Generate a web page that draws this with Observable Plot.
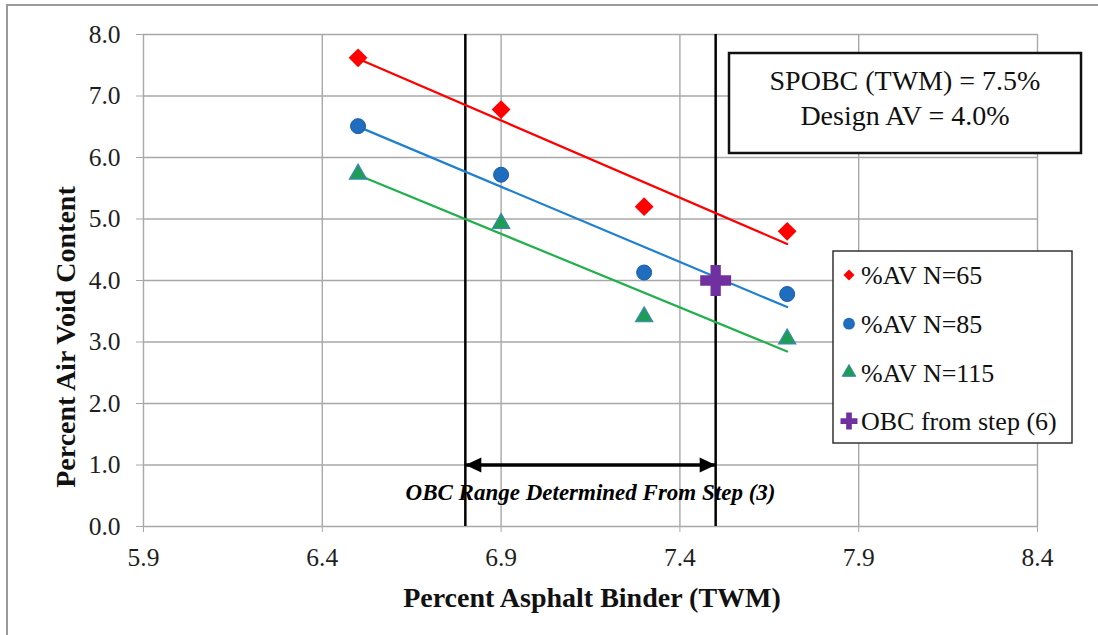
<!DOCTYPE html>
<html><head><meta charset="utf-8">
<script src="https://cdn.jsdelivr.net/npm/d3@7"></script>
<script src="https://cdn.jsdelivr.net/npm/@observablehq/plot@0.6"></script>
<style>html,body{margin:0;padding:0;background:#fff;} #chart{width:1098px;height:635px;overflow:hidden;}</style>
</head><body><div id="chart"></div>
<script>
// ---- data ----
const xTicks = [5.9, 6.4, 6.9, 7.4, 7.9, 8.4];
const yTicks = [0, 1, 2, 3, 4, 5, 6, 7, 8];
const binder = [6.5, 6.9, 7.3, 7.7];
const av65 = [7.62, 6.78, 5.20, 4.80];
const av85 = [6.51, 5.72, 4.13, 3.78];
const av115 = [5.73, 4.93, 3.41, 3.05];
const obcBinder = [7.5];
const obcAV = [4.0];
const rangeBounds = [6.8, 7.5];
const rangeArrowAV = [1.0];
const rangeLabelAV = [0.55];
const seriesNames = ["%AV N=65", "%AV N=85", "%AV N=115", "OBC from step (6)"];
const infoLines = ["SPOBC (TWM) = 7.5%", "Design AV = 4.0%"];
const rangeLabel = "OBC Range Determined From Step (3)";
const xTitle = "Percent Asphalt Binder (TWM)";
const yTitle = "Percent Air Void Content";

// ---- styles ----
const C = {
  red: "#ff0000", blueLine: "#1f80d2", blue: "#1f6dbf", blueEdge: "#1a5ca6",
  greenLine: "#22b04b", green: "#1e9e55", greenEdge: "#3b86b6", purple: "#7030a0",
  grid: "#a8a8a8", text: "#1e1e1e"
};
const serif = "'Liberation Serif', 'Times New Roman', serif";

const rows = ys => binder.map((x, i) => ({x, y: ys[i]}));
const d65 = rows(av65), d85 = rows(av85), d115 = rows(av115);
const obc = obcBinder.map((x, i) => ({x, y: obcAV[i]}));
const arrowRow = [{x1: rangeBounds[0], x2: rangeBounds[1], y: rangeArrowAV[0]}];
const headL = [{x: rangeBounds[0], y: rangeArrowAV[0]}];
const headR = [{x: rangeBounds[1], y: rangeArrowAV[0]}];
const labelRow = [{x: d3.mean(rangeBounds), y: rangeLabelAV[0], t: rangeLabel}];

// filled arrowheads with the tip at the origin
const tri = dir => ({draw(ctx, size) {
  const r = Math.sqrt(size / Math.PI), h = r * 2, w = r * 0.95;
  ctx.moveTo(0, 0); ctx.lineTo(-dir * h, -w); ctx.lineTo(-dir * h, w); ctx.closePath();
}});

const chart = Plot.plot({
  width: 1098, height: 635,
  marginLeft: 143, marginRight: 61, marginTop: 34, marginBottom: 109,
  x: {domain: [5.9, 8.4]},
  y: {domain: [0, 8]},
  style: {fontFamily: serif, fontSize: "25px", color: C.text, background: "white"},
  marks: [
    Plot.gridX(xTicks, {stroke: C.grid, strokeOpacity: 1, strokeWidth: 1.4}),
    Plot.gridY(yTicks, {stroke: C.grid, strokeOpacity: 1, strokeWidth: 1.4}),
    Plot.axisX(xTicks, {tickSize: 6, tickPadding: 15, stroke: C.grid, fill: C.text, tickFormat: d3.format(".1f"), label: null, fontSize: 25.5}),
    Plot.axisY(yTicks, {tickSize: 7, tickPadding: 16, stroke: C.grid, fill: C.text, tickFormat: d3.format(".1f"), label: null, fontSize: 25.5}),
    Plot.ruleX(rangeBounds, {stroke: "black", strokeWidth: 2.5}),
    Plot.ruleY(arrowRow, {x1: "x1", x2: "x2", y: "y", stroke: "black", strokeWidth: 3.5}),
    Plot.dot(headL, {x: "x", y: "y", symbol: tri(-1), r: 8, fill: "black", stroke: "none"}),
    Plot.dot(headR, {x: "x", y: "y", symbol: tri(1), r: 8, fill: "black", stroke: "none"}),
    Plot.text(labelRow, {x: "x", y: "y", text: "t", fontSize: 23, fontWeight: "bold", fontStyle: "italic", fill: "black"}),
    Plot.linearRegressionY(d65, {x: "x", y: "y", stroke: C.red, strokeWidth: 2.2, ci: 0}),
    Plot.linearRegressionY(d85, {x: "x", y: "y", stroke: C.blueLine, strokeWidth: 2.2, ci: 0}),
    Plot.linearRegressionY(d115, {x: "x", y: "y", stroke: C.greenLine, strokeWidth: 2.2, ci: 0}),
    Plot.dot(d65, {x: "x", y: "y", symbol: "square", rotate: 45, r: 7.5, fill: C.red, stroke: "none"}),
    Plot.dot(d85, {x: "x", y: "y", symbol: "circle", r: 7.5, fill: C.blue, stroke: C.blueEdge, strokeWidth: 1}),
    Plot.dot(d115, {x: "x", y: "y", symbol: "triangle", r: 6.4, fill: C.green, stroke: C.greenEdge, strokeWidth: 1.2}),
    Plot.dot(obc, {x: "x", y: "y", symbol: "cross", r: 13, fill: C.purple, stroke: "none"})
  ]
});
document.getElementById("chart").appendChild(chart);

// ---- annotations drawn onto the same svg ----
const svg = d3.select(chart);
svg.insert("rect", ":first-child").attr("x", 7).attr("y", 5).attr("width", 1300).attr("height", 1000)
  .attr("fill", "none").attr("stroke", "#9a9a9a").attr("stroke-width", 2);

// axis titles
svg.append("text").attr("x", 592).attr("y", 607).attr("text-anchor", "middle")
  .attr("font-family", serif).attr("font-size", 28).attr("font-weight", "bold").attr("fill", "#111").text(xTitle);
svg.append("text").attr("transform", "translate(75,337) rotate(-90)").attr("text-anchor", "middle")
  .attr("font-family", serif).attr("font-size", 28).attr("font-weight", "bold").attr("fill", "#111").text(yTitle);

// info box
const info = svg.append("g");
info.append("rect").attr("x", 729).attr("y", 53).attr("width", 352).attr("height", 100)
  .attr("fill", "white").attr("stroke", "#111").attr("stroke-width", 2.5);
infoLines.forEach((t, i) => info.append("text").attr("x", 905).attr("y", 90 + i * 35)
  .attr("text-anchor", "middle").attr("font-family", serif).attr("font-size", 28).attr("fill", "#111").text(t));

// legend
const leg = svg.append("g");
leg.append("rect").attr("x", 833).attr("y", 251).attr("width", 239).attr("height", 192)
  .attr("fill", "white").attr("stroke", "#333").attr("stroke-width", 1.5);
const legSym = [
  {s: d3.symbolSquare, size: 60, rot: 45, fill: C.red, stroke: "none"},
  {s: d3.symbolCircle, size: 110, rot: 0, fill: C.blue, stroke: "none"},
  {s: d3.symbolTriangle, size: 80, rot: 0, fill: C.green, stroke: C.greenEdge},
  {s: d3.symbolCross, size: 160, rot: 0, fill: C.purple, stroke: "none"}
];
seriesNames.forEach((name, i) => {
  const y = 275 + i * 48.7;
  leg.append("path").attr("transform", `translate(849,${y}) rotate(${legSym[i].rot})`).attr("d", d3.symbol(legSym[i].s, legSym[i].size)())
    .attr("fill", legSym[i].fill).attr("stroke", legSym[i].stroke);
  leg.append("text").attr("x", 861).attr("y", y).attr("dy", "0.35em").attr("text-anchor", "start")
    .attr("font-family", serif).attr("font-size", 26).attr("fill", "#111").text(name);
});
</script>
</body></html>
